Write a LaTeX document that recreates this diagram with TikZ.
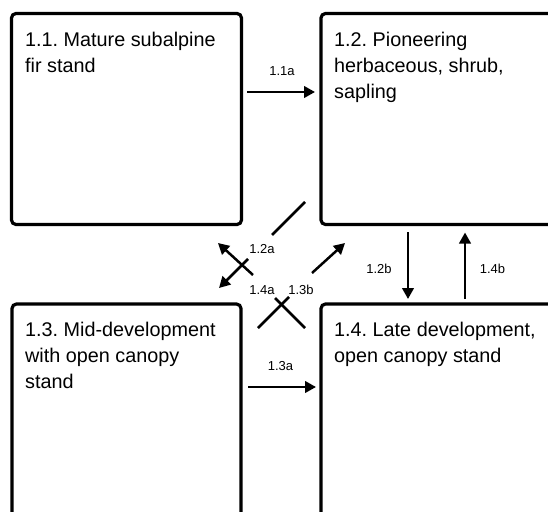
\documentclass[tikz,border=0pt]{standalone}
\usepackage{fontspec}
\setmainfont{Liberation Sans}
\usetikzlibrary{arrows.meta}
\frenchspacing
\begin{document}
\begin{tikzpicture}[x=1pt,y=-1pt,
  box/.style={draw, line width=3.2pt, rounded corners=4.5pt, inner sep=0pt, outer sep=0pt, anchor=north west},
  boxtext/.style={anchor=north west, inner sep=0pt, align=left, font=\fontsize{19.8}{26}\selectfont},
  lbl/.style={anchor=base, inner sep=0pt, font=\fontsize{13}{14}\selectfont},
  conn/.style={line width=2.5pt},
  arr/.style={conn, -{Triangle[length=11pt,width=11.5pt]}}]
\useasboundingbox (0,0) rectangle (548,511);
\clip (0,0) rectangle (548,511);
% boxes
\node[box, minimum width=230pt, minimum height=211pt] (b11) at (11.5,13.5) {};
\node[box, minimum width=260pt, minimum height=211pt] (b12) at (321,13.5) {};
\node[box, minimum width=229pt, minimum height=240pt] (b13) at (12,304) {};
\node[box, minimum width=260pt, minimum height=240pt] (b14) at (321,304) {};
% box texts
\node[boxtext] (t11) at (25,32) {1.1. Mature subalpine\\fir stand};
\node[boxtext] (t12) at (334,32) {1.2. Pioneering\\herbaceous, shrub,\\sapling};
\node[boxtext] (t13) at (25,322.2) {1.3. Mid-development\\with open canopy\\stand};
\node[boxtext] (t14) at (334,322.2) {1.4. Late development,\\open canopy stand};
% connector end points
\coordinate (a11s) at (247,92);   \coordinate (a11e) at (315,92);
\coordinate (a13s) at (248,387);  \coordinate (a13e) at (316,387);
\coordinate (a12bs) at (408,232); \coordinate (a12be) at (408,299);
\coordinate (a14bs) at (465,299); \coordinate (a14be) at (465,232.5);
\coordinate (a12as) at (305,202); \coordinate (a12am) at (272,235);
\coordinate (a12an) at (248,259); \coordinate (a12ae) at (219,288);
\coordinate (a14as) at (305,328); \coordinate (a14am) at (275,298);
\coordinate (a14an) at (253,275); \coordinate (a14ae) at (218,243);
\coordinate (a13bs) at (258,328); \coordinate (a13bm) at (289,297);
\coordinate (a13bn) at (312,273); \coordinate (a13be) at (345,243);
% connectors
\draw[arr] (a11s) -- (a11e);
\draw[arr] (a13s) -- (a13e);
\draw[arr] (a12bs) -- (a12be);
\draw[arr] (a14bs) -- (a14be);
\draw[conn] (a12as) -- (a12am);
\draw[arr] (a12an) -- (a12ae);
\draw[conn] (a14as) -- (a14am);
\draw[arr] (a14an) -- (a14ae);
\draw[conn] (a13bs) -- (a13bm);
\draw[arr] (a13bn) -- (a13be);
% labels
\node[lbl] (l11a) at (282,75.5) {1.1a};
\node[lbl] (l12a) at (262,253.5) {1.2a};
\node[lbl] (l14a) at (262,294) {1.4a};
\node[lbl] (l13b) at (301,294) {1.3b};
\node[lbl] (l12b) at (379,273.5) {1.2b};
\node[lbl] (l14b) at (492.5,273.5) {1.4b};
\node[lbl] (l13a) at (280.5,370) {1.3a};
\end{tikzpicture}
\end{document}
